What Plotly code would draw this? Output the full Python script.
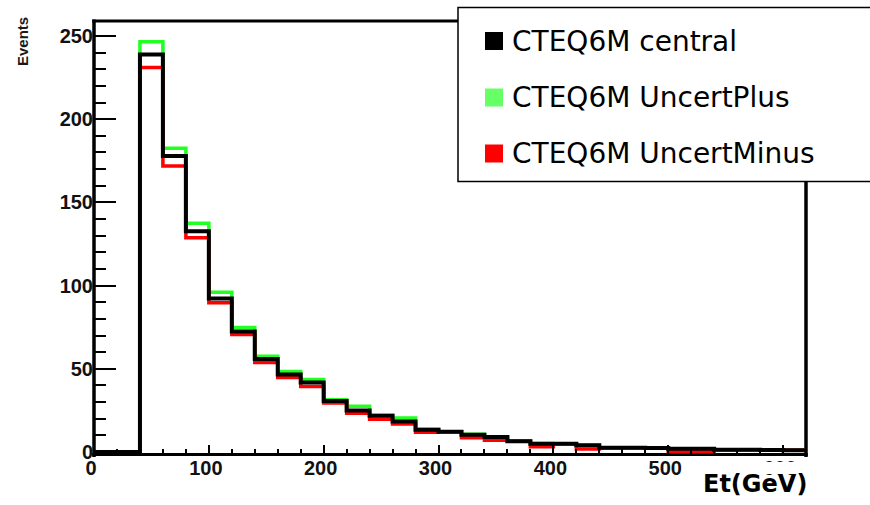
import plotly.graph_objects as go

# ---------------- data ----------------
bin_edges = list(range(0, 640, 20))  # 0 .. 620 GeV, 31 bins of 20 GeV

central = [0, 0, 238.9, 177.9, 132.6, 92.3, 72.4, 55.9, 46.6, 41.7, 30.6, 25.0,
           21.8, 18.3, 13.3, 12.2, 10.4, 9.0, 6.4, 5.0, 5.0, 4.0, 2.6, 2.6,
           2.4, 2.0, 2.0, 1.4, 1.3, 1.2, 1.1]
uncert_plus = [0, 0, 246.6, 182.5, 137.5, 96.0, 74.8, 57.6, 48.4, 43.5, 31.4, 27.5,
               22.1, 20.5, 13.6, 12.2, 10.7, 9.2, 6.4, 5.1, 5.0, 4.0, 2.6, 2.6,
               2.4, 2.0, 2.0, 1.4, 1.3, 1.2, 1.1]
uncert_minus = [0, 0, 231.1, 171.9, 128.8, 89.7, 70.6, 53.8, 44.8, 39.3, 29.4, 23.3,
                19.7, 16.8, 11.8, 12.2, 8.6, 7.0, 6.4, 3.2, 5.0, 1.8, 2.6, 2.6,
                2.4, 0.2, 0.2, 1.4, 1.3, 1.2, 1.1]

series_names = ["CTEQ6M central", "CTEQ6M UncertPlus", "CTEQ6M UncertMinus"]
x_tick_vals = [0, 100, 200, 300, 400, 500, 600]
x_tick_text = ["0", "100", "200", "300", "400", "500", "600"]
y_tick_vals = [0, 50, 100, 150, 200, 250]
y_tick_text = ["0", "50", "100", "150", "200", "250"]

# ---------------- layout geometry ----------------
W, H = 870, 505
ML, MR, MT, MB = 94, 64, 21, 51
PW, PH = W - ML - MR, H - MT - MB


def px(x):
    return (x - ML) / PW


def py(y):
    return (H - MB - y) / PH


BLACK = "#000000"
GREEN = "#22ff22"
GREEN_LEG = "#66ff66"
RED = "#ff0000"


def step(vals):
    return vals + [vals[-1]]


fig = go.Figure()
for vals, col, w in [(uncert_plus, GREEN, 3.5), (uncert_minus, RED, 3.5), (central, BLACK, 4)]:
    fig.add_trace(go.Scatter(x=bin_edges, y=step(vals), mode="lines",
                             line=dict(color=col, width=w, shape="hv"),
                             showlegend=False, hoverinfo="skip"))

tickfont = dict(family="Liberation Sans", size=20, color="#111111", weight="bold")

shapes = []
# frame
shapes.append(dict(type="line", xref="paper", yref="paper", x0=0, x1=0,
                   y0=-3 / PH, y1=1 + 1.5 / PH, line=dict(color=BLACK, width=3.5), layer="below"))
shapes.append(dict(type="line", xref="paper", yref="paper", x0=-1.75 / PW, x1=1 + 1.75 / PW,
                   y0=0 - 0.5 / PH, y1=0 - 0.5 / PH, line=dict(color=BLACK, width=3), layer="below"))
shapes.append(dict(type="line", xref="paper", yref="paper", x0=1, x1=1,
                   y0=-3 / PH, y1=1 + 1.5 / PH, line=dict(color=BLACK, width=3.5), layer="below"))
shapes.append(dict(type="line", xref="paper", yref="paper", x0=-1.75 / PW, x1=1 + 1.75 / PW,
                   y0=1, y1=1, line=dict(color=BLACK, width=3), layer="below"))
# cover hiding most of the "600" label
shapes.append(dict(type="rect", xref="paper", yref="paper", x0=px(760), x1=px(803),
                   y0=py(474), y1=py(462), fillcolor="white", line=dict(width=0), layer="above"))
# legend box
shapes.append(dict(type="rect", xref="paper", yref="paper", x0=px(458), x1=px(890),
                   y0=py(181.5), y1=py(7.5), fillcolor="white",
                   line=dict(color=BLACK, width=1.5), layer="above"))

annotations = []
leg_y = [41, 97.5, 153.5]
leg_cols = [BLACK, GREEN_LEG, RED]
for name, col, yc in zip(series_names, leg_cols, leg_y):
    shapes.append(dict(type="rect", xref="paper", yref="paper", x0=px(485), x1=px(503),
                       y0=py(yc + 9), y1=py(yc - 9), fillcolor=col, line=dict(width=0),
                       layer="above"))
    annotations.append(dict(text=name, xref="paper", yref="paper", x=px(510), y=py(yc),
                            xanchor="left", yanchor="middle", showarrow=False,
                            font=dict(family="DejaVu Sans", size=28, color=BLACK)))

annotations.append(dict(text="Et(GeV)", xref="paper", yref="paper", x=px(809), y=py(484),
                        xanchor="right", yanchor="middle", showarrow=False,
                        font=dict(family="DejaVu Sans", size=24, color=BLACK, weight="bold")))
annotations.append(dict(text="Events", xref="paper", yref="paper", x=px(23), y=py(42),
                        xanchor="center", yanchor="middle", showarrow=False, textangle=-90,
                        font=dict(family="Liberation Sans", size=15, color="#1a1a1a",
                                  weight="bold")))

fig.update_layout(
    width=W, height=H, autosize=False,
    margin=dict(l=ML, r=MR, t=MT, b=MB, pad=0),
    paper_bgcolor="white", plot_bgcolor="white",
    showlegend=False,
    shapes=shapes, annotations=annotations,
    xaxis=dict(range=[0, 620], showline=False, showgrid=False, zeroline=False,
               tickmode="array", tickvals=x_tick_vals, ticktext=x_tick_text,
               ticks="inside", ticklen=9, tickwidth=2, tickcolor=BLACK,
               tickfont=tickfont, ticklabelshift=-3,
               minor=dict(dtick=20, tick0=0, ticks="inside", ticklen=5, tickwidth=2,
                          tickcolor=BLACK, showgrid=False),
               fixedrange=True),
    yaxis=dict(range=[-1.2, 259], showline=False, showgrid=False, zeroline=False,
               tickmode="array", tickvals=y_tick_vals, ticktext=y_tick_text,
               ticks="inside", ticklen=22, tickwidth=2, tickcolor=BLACK,
               tickfont=tickfont,
               minor=dict(dtick=10, tick0=0, ticks="inside", ticklen=12, tickwidth=2,
                          tickcolor=BLACK, showgrid=False),
               fixedrange=True),
)

fig.write_html("out.html", config={"displayModeBar": False})
